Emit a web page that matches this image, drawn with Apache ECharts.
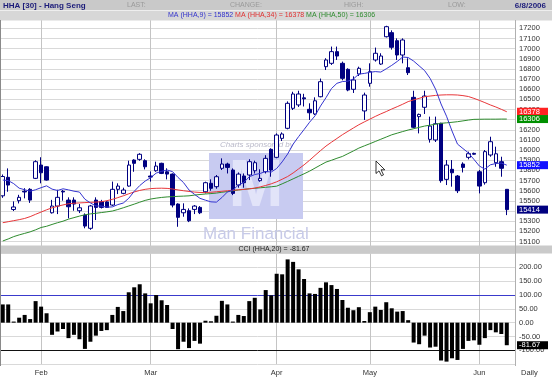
<!DOCTYPE html>
<html><head><meta charset="utf-8">
<script src="https://cdn.jsdelivr.net/npm/echarts@6/dist/echarts.min.js"></script>
<style>html,body{margin:0;padding:0;background:#fff}#c{width:552px;height:379px}</style>
</head><body><div id="c"></div>
<script>
// ---- data ----
const dates = ['1/19','1/20','1/23','1/24','1/25','1/26','1/27',
 '2/1','2/2','2/3','2/6','2/7','2/8','2/9','2/10','2/13','2/14','2/15','2/16','2/17','2/20','2/21','2/22','2/23','2/24','2/27','2/28',
 '3/1','3/2','3/3','3/6','3/7','3/8','3/9','3/10','3/13','3/14','3/15','3/16','3/17','3/20','3/21','3/22','3/23','3/24','3/27','3/28','3/29','3/30','3/31',
 '4/3','4/4','4/6','4/7','4/10','4/11','4/12','4/13','4/18','4/19','4/20','4/21','4/24','4/25','4/26','4/27','4/28',
 '5/2','5/3','5/4','5/8','5/9','5/10','5/11','5/12','5/15','5/16','5/17','5/18','5/19','5/22','5/23','5/24','5/25','5/26','5/29','5/30',
 '6/1','6/2','6/5','6/6','6/7','6/8'];
const opens = [15550,15732,15415,15502,15595,15614,15722,15853,15836,15383,
 15449,15595,15508,15508,15403,15360,15230,15508,15492,15490,
 15459,15614,15574,15646,15902,15909,15896,15745,15797,15870,
 15787,15764,15469,15383,15403,15416,15436,15590,15673,15640,
 15821,15863,15804,15656,15745,15755,15797,15699,15787,16008,
 15929,16116,16215,16412,16445,16515,16402,16356,16526,16822,
 16855,16970,16855,16796,16599,16750,16386,16658,16888,16848,
 17117,17157,17078,16937,16812,16520,16330,16422,16106,16100,
 16264,15712,15811,15745,15863,15929,15968,15787,15679,15952,
 15876,15886,15614];
const closes = [15740,15656,15440,15535,15588,15508,15886,15777,15705,15449,
 15535,15588,15442,15469,15432,15252,15450,15436,15436,15436,
 15614,15646,15607,15853,15870,15959,15836,15735,15843,15771,
 15764,15459,15338,15416,15304,15449,15383,15679,15624,15738,
 15863,15830,15574,15764,15679,15886,15876,15722,15919,15804,
 16149,16159,16461,16553,16553,16505,16368,16486,16674,16888,
 16970,16927,16707,16592,16691,16806,16543,16773,16954,16927,
 17216,17013,16937,17085,16763,16225,16352,16533,16237,16260,
 15699,15853,15777,15600,15830,15965,15960,15646,15985,16083,
 15964,15821,15414];
const lows = [15530,15590,15400,15475,15525,15480,15715,15673,15700,15375,
 15370,15502,15328,15403,15380,15230,15215,15311,15425,15430,
 15450,15567,15565,15640,15787,15895,15810,15690,15787,15764,
 15712,15436,15245,15344,15291,15370,15370,15574,15600,15620,
 15804,15770,15557,15630,15630,15705,15770,15689,15770,15738,
 15920,16090,16205,16395,16425,16430,16297,16346,16520,16789,
 16839,16888,16688,16580,16563,16730,16297,16625,16872,16839,
 17110,16990,16888,16855,16740,16215,16165,16356,16074,16080,
 15679,15656,15640,15577,15780,15909,15955,15574,15660,15935,
 15836,15738,15360];
const highs = [15760,15820,15495,15560,15625,15625,15900,15930,15840,15510,
 15610,15607,15535,15535,15470,15377,15460,15535,15510,15500,
 15690,15673,15630,15896,15910,15970,15910,15790,15886,15876,
 15821,15771,15476,15476,15426,15459,15449,15689,15712,15755,
 15919,15876,15820,15780,15770,15910,15896,15811,15950,16018,
 16165,16175,16480,16575,16585,16555,16461,16520,16705,16905,
 17020,17020,16872,16806,16727,16822,16566,16855,17010,16954,
 17225,17180,17101,17101,16905,16585,16360,16585,16330,16330,
 16270,15902,15902,15755,15880,15985,15975,15804,16001,16132,
 16034,15935,15614];
// MA(9) values before enough closes exist
const ma9Head = [15705,15700,15670,15625,15610,15595,15610,15630];
const ma34 = [15285,15295,15305,15315,15327,15345,15368,15390,15412,15432,
 15447,15460,15472,15477,15480,15483,15486,15488,15492,15502,
 15515,15532,15550,15570,15588,15603,15614,15621,15624,15625,
 15623,15617,15608,15600,15593,15587,15583,15582,15585,15590,
 15595,15600,15605,15609,15613,15619,15626,15638,15652,15668,
 15688,15713,15740,15775,15815,15855,15900,15948,15995,16040,
 16078,16115,16152,16185,16218,16250,16278,16305,16332,16357,
 16380,16405,16428,16452,16478,16495,16510,16526,16533,16539,
 16543,16545,16545,16543,16537,16528,16510,16490,16468,16445,
 16425,16402,16378];
const ma50 = [15105,15125,15148,15165,15180,15195,15215,15238,15250,15268,
 15285,15300,15320,15335,15350,15363,15372,15378,15385,15392,
 15400,15415,15432,15450,15468,15487,15505,15518,15527,15534,
 15539,15542,15545,15547,15550,15557,15563,15568,15572,15577,
 15585,15592,15600,15607,15613,15619,15624,15629,15634,15639,
 15645,15668,15692,15717,15742,15767,15793,15823,15853,15882,
 15900,15920,15938,15965,15992,16020,16042,16063,16085,16107,
 16129,16151,16167,16183,16198,16211,16224,16237,16246,16255,
 16264,16269,16274,16280,16288,16296,16303,16304,16305,16305,
 16305,16306,16306];
const cci = [66,66,4,18,28,13,78,58,34,-44,
 -32,-23,-56,-44,-60,-95,-69,-47,-30,-27,
 28,57,42,110,128,139,106,70,100,81,
 64,-23,-96,-69,-92,-66,-76,7,5,25,
 79,66,4,28,24,78,90,48,118,99,
 177,175,229,220,193,158,106,104,126,146,
 136,122,82,54,45,56,6,38,58,46,
 74,52,40,42,9,-72,-78,-47,-90,-87,
 -137,-141,-129,-135,-95,-66,-64,-80,-56,-27,
 -35,-41,-81.67];
const priceAxis = {min:15000, max:17300, step:100};
const cciAxis = {min:-150, max:250, step:50};
const monthNames = ['Jan','Feb','Mar','Apr','May','Jun','Jul','Aug','Sep','Oct','Nov','Dec'];
const titleText = 'HHA [30] - Hang Seng';
const dateText = '6/8/2006';

// ---- build ----
const FONT = '"Liberation Sans", Arial, sans-serif';
const n = dates.length;
const cats = dates.concat(['']);
const ma9 = closes.map((c,i)=> i<8 ? ma9Head[i] : closes.slice(i-8,i+1).reduce((a,b)=>a+b,0)/9);
const monthStarts = [];
for (let i=1;i<n;i++){ if (dates[i].split('/')[0] !== dates[i-1].split('/')[0]) monthStarts.push(i); }
const startSet = new Set(monthStarts);
const monthLine = monthStarts.map(i=>({xAxis: dates[i]}));

const chart = echarts.init(document.getElementById('c'));
const axisLbl = {color:'#333', fontSize:7.5, fontFamily:FONT};
chart.setOption({
  animation:false,
  backgroundColor:'#fff',
  grid:[
    {left:0, width:515, top:18.15, height:233.5, outerBoundsMode:'none', containLabel:false},
    {left:0, width:515, top:253.6, height:110.5, outerBoundsMode:'none', containLabel:false}
  ],
  xAxis:[
    {type:'category', gridIndex:0, data:cats, boundaryGap:true,
     axisLine:{show:false}, axisTick:{show:false}, axisLabel:{show:false}, splitLine:{show:false}},
    {type:'category', gridIndex:1, data:cats, boundaryGap:true,
     axisLine:{show:false}, axisTick:{show:false}, splitLine:{show:false},
     axisLabel:Object.assign({show:true, margin:5,
       interval:(idx)=>startSet.has(idx),
       formatter:(v)=> v ? monthNames[parseInt(v.split('/')[0],10)-1] : ''}, axisLbl)}
  ],
  yAxis:[
    {type:'value', gridIndex:0, position:'right', min:priceAxis.min, max:priceAxis.max, interval:priceAxis.step,
     axisLine:{show:false}, axisTick:{show:false},
     axisLabel:Object.assign({margin:4, formatter:(v)=>(v===priceAxis.min||v===priceAxis.max)?'':String(v)}, axisLbl),
     splitLine:{show:true, lineStyle:{color:'#d9d9d9', width:1}}},
    {type:'value', gridIndex:1, position:'right', min:cciAxis.min, max:cciAxis.max, interval:cciAxis.step,
     axisLine:{show:false}, axisTick:{show:false},
     axisLabel:Object.assign({margin:4, formatter:(v)=>(v===cciAxis.min||v===cciAxis.max)?'':v.toFixed(2)}, axisLbl),
     splitLine:{show:true, lineStyle:{color:'#d9d9d9', width:1}}}
  ],
  series:[
    {type:'candlestick', xAxisIndex:0, yAxisIndex:0, barWidth:4, z:3,
     data: dates.map((d,i)=>[opens[i], closes[i], lows[i], highs[i]]),
     itemStyle:{color:'#ffffff', color0:'#000080', borderColor:'#000080', borderColor0:'#000080', borderWidth:1},
     markLine:{silent:true, z:1, symbol:['none','none'], label:{show:false}, animation:false,
       lineStyle:{color:'#c4c4c4', width:1, type:'solid'}, data: monthLine}},
    {type:'line', xAxisIndex:0, yAxisIndex:0, data:ma50, showSymbol:false, symbol:'none', z:4,
     lineStyle:{color:'#2e8b2e', width:1}},
    {type:'line', xAxisIndex:0, yAxisIndex:0, data:ma34, showSymbol:false, symbol:'none', z:4,
     lineStyle:{color:'#e8373a', width:1}},
    {type:'line', xAxisIndex:0, yAxisIndex:0, data:ma9, showSymbol:false, symbol:'none', z:4,
     lineStyle:{color:'#3535d0', width:1}},
    {type:'bar', xAxisIndex:1, yAxisIndex:1, data:cci, barWidth:4, z:3,
     itemStyle:{color:'#000000'},
     markLine:{silent:true, z:1, symbol:['none','none'], label:{show:false}, animation:false,
       lineStyle:{color:'#c4c4c4', width:1, type:'solid'},
       data: monthLine.concat([
         {yAxis:100, lineStyle:{color:'#3a3acc', width:1, type:'solid'}},
         {yAxis:-100, lineStyle:{color:'#111111', width:1, type:'solid'}}
       ])}}
  ]
});

// ---- decorations (positions of value boxes from the axes) ----
const last = n-1;
const py = v => chart.convertToPixel({yAxisIndex:0}, v);
const cy = v => chart.convertToPixel({yAxisIndex:1}, v);
function box(y, text, bg){
  return [
    {type:'rect', z:60, shape:{x:517, y:y-4, width:31, height:8}, style:{fill:bg}},
    {type:'text', z:61, style:{text:text, x:519, y:y, fill:'#ffffff', font:'7.5px '+FONT, align:'left', verticalAlign:'middle'}}
  ];
}
const r = v => String(Math.round(v));
const g = [
  // watermark
  {type:'text', z:1, style:{text:'Charts sponsored by', x:220, y:145, fill:'#b9b9c9', font:'italic 8px '+FONT, verticalAlign:'middle'}},
  {type:'rect', z:1, shape:{x:209, y:153, width:94, height:66}, style:{fill:'#c8cbf1'}},
  {type:'text', z:1, style:{text:'M', x:256, y:188, fill:'#e2e4f9', font:'bold 66px '+FONT, align:'center', verticalAlign:'middle'}},
  {type:'text', z:1, style:{text:'Man Financial', x:203, y:234, fill:'#c7cae8', font:'17px '+FONT, verticalAlign:'middle'}},
  // header
  {type:'rect', z:90, shape:{x:0, y:0, width:552, height:10.5}, style:{fill:'#c9c9c9'}},
  {type:'rect', z:90, shape:{x:0, y:10.5, width:552, height:10}, style:{fill:'#d7d7d7'}},
  {type:'line', z:91, shape:{x1:0, y1:10.5, x2:552, y2:10.5}, style:{stroke:'#eeeeee', lineWidth:1}},
  {type:'text', z:92, style:{text:titleText, x:3, y:5.5, fill:'#1c1c7a', font:'bold 8px '+FONT, verticalAlign:'middle'}},
  {type:'text', z:92, style:{text:'LAST:', x:127, y:5.5, fill:'#9a9a9a', font:'7px '+FONT, verticalAlign:'middle'}},
  {type:'text', z:92, style:{text:'CHANGE:', x:230, y:5.5, fill:'#9a9a9a', font:'7px '+FONT, verticalAlign:'middle'}},
  {type:'text', z:92, style:{text:'HIGH:', x:344, y:5.5, fill:'#9a9a9a', font:'7px '+FONT, verticalAlign:'middle'}},
  {type:'text', z:92, style:{text:'LOW:', x:448, y:5.5, fill:'#9a9a9a', font:'7px '+FONT, verticalAlign:'middle'}},
  {type:'text', z:92, style:{text:dateText, x:546, y:5.5, fill:'#1c1c7a', font:'bold 8px '+FONT, align:'right', verticalAlign:'middle'}},
  {type:'text', z:92, style:{
     text:'{b|MA (HHA,9) = '+r(ma9[last])+'} {r|MA (HHA,34) = '+r(ma34[last])+'} {g|MA (HHA,50) = '+r(ma50[last])+'}',
     x:168, y:15.5, verticalAlign:'middle', font:'7px '+FONT,
     rich:{b:{fill:'#3333cc', font:'7px '+FONT}, r:{fill:'#e03030', font:'7px '+FONT}, g:{fill:'#2e8b2e', font:'7px '+FONT}}}},
  // separator
  {type:'rect', z:90, shape:{x:0, y:245.5, width:552, height:8}, style:{fill:'#cacaca'}},
  {type:'text', z:92, style:{text:'CCI (HHA,20) = '+cci[last].toFixed(2), x:274, y:249.5, fill:'#222', font:'7px '+FONT, align:'center', verticalAlign:'middle'}},
  // borders
  {type:'line', z:92, shape:{x1:0.5, y1:20, x2:0.5, y2:366}, style:{stroke:'#8a8a8a', lineWidth:1}},
  {type:'line', z:92, shape:{x1:515.5, y1:20, x2:515.5, y2:366}, style:{stroke:'#b0b0b0', lineWidth:1}},
  {type:'text', z:92, style:{text:'Daily', x:521, y:373, fill:'#333', font:'7.5px '+FONT, verticalAlign:'middle'}},
  // mouse pointer
  {type:'polygon', z:95, shape:{points:[[376,161],[376,173.5],[379,170.8],[381.5,175.8],[383.5,174.8],[381,169.8],[384.8,169.8]]},
   style:{fill:'#ffffff', stroke:'#000000', lineWidth:0.8}}
]
.concat(box(py(ma34[last]), r(ma34[last]), '#ff2222'))
.concat(box(py(ma50[last]), r(ma50[last]), '#009000'))
.concat(box(py(ma9[last]), r(ma9[last]), '#1010ff'))
.concat(box(py(closes[last]), r(closes[last]), '#000080'))
.concat(box(cy(cci[last]), cci[last].toFixed(2), '#000000'));
chart.setOption({graphic:{elements:g}});
</script>
</body></html>
